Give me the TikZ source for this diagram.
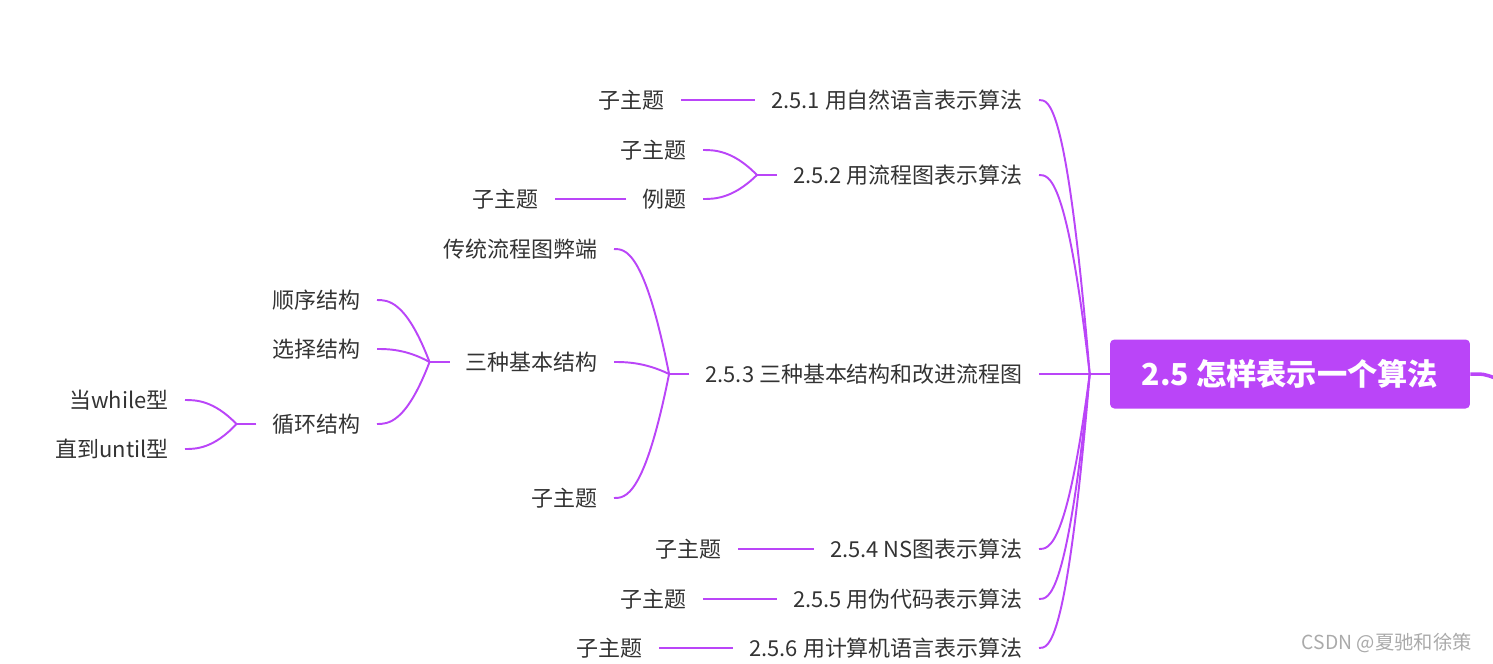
\documentclass[tikz,border=0pt]{standalone}
\usepackage{fontspec}
\setmainfont{Noto Sans CJK SC}
\usetikzlibrary{calc,positioning}
\definecolor{mindpurple}{RGB}{186,69,248}
\definecolor{topicgray}{RGB}{51,51,51}
\definecolor{markgray}{RGB}{170,170,170}

\begin{document}
\begin{tikzpicture}[x=0.02cm, y=-0.02cm,
  topic/.style={font=\fontsize{12.5}{15}\selectfont, text=topicgray,
    inner xsep=0.32cm, inner ysep=2pt, anchor=east},
  central/.style={fill=mindpurple, rounded corners=2.5pt, text=white,
    font=\fontsize{17.2}{21}\selectfont\bfseries,
    minimum width=7.2cm, minimum height=1.38cm},
  branch/.style={draw=mindpurple, line width=1.1pt,
    to path={.. controls ($(\tikztostart|-\tikztotarget)!0.45!(\tikztotarget)$)
      and ($(\tikztostart|-\tikztotarget)!0.8!(\tikztotarget)$) .. (\tikztotarget)}},
  watermark/.style={font=\fontsize{11}{13}\selectfont, text=markgray, anchor=east}]
  % canvas in pixels of the screenshot
  \useasboundingbox (0,0) rectangle (1493,663);

  % central topic
  \node[central] (root) at (1290,374) {2.5 怎样表示一个算法};
  \coordinate (offright) at (1495,378);
  \draw[mindpurple, line width=2pt] (root.east) .. controls (1484,374) .. (offright);

  % main topics
  \node[topic] (t1) at (1039,100) {2.5.1 用自然语言表示算法};
  \node[topic] (t2) at (1039,175) {2.5.2 用流程图表示算法};
  \node[topic] (t3) at (1039,374) {2.5.3 三种基本结构和改进流程图};
  \node[topic] (t4) at (1039,549) {2.5.4 NS图表示算法};
  \node[topic] (t5) at (1039,599) {2.5.5 用伪代码表示算法};
  \node[topic] (t6) at (1039,648) {2.5.6 用计算机语言表示算法};

  % subtopics
  \node[topic] (t1a) at (681,100) {子主题};
  \node[topic] (t2a) at (703,150) {子主题};
  \node[topic] (t2b) at (703,199) {例题};
  \node[topic] (t2b1) at (555,199) {子主题};
  \node[topic] (t3a) at (614,249) {传统流程图弊端};
  \node[topic] (t3b) at (614,362) {三种基本结构};
  \node[topic] (t3c) at (614,498) {子主题};
  \node[topic] (t3b1) at (377,300) {顺序结构};
  \node[topic] (t3b2) at (377,349) {选择结构};
  \node[topic] (t3b3) at (377,424) {循环结构};
  \node[topic] (t3b3a) at (185,400) {当while型};
  \node[topic] (t3b3b) at (185,449) {直到until型};
  \node[topic] (t4a) at (738,549) {子主题};
  \node[topic] (t5a) at (703,599) {子主题};
  \node[topic] (t6a) at (659,648) {子主题};

  % watermark
  \node[watermark] (wm) at (1478,643) {CSDN @夏驰和徐策};

  % junction points, 20px left of each parent
  \foreach \p/\j in {root/j0, t2/j2, t3/j3, t3b/j3b, t3b3/j3bc}{
    \coordinate (\j) at ($(\p.west)+(-20,0)$);
    \draw[branch] (\p.west) -- (\j);
  }

  % curved branches
  \foreach \j/\c in {j0/t1, j0/t2, j0/t3, j0/t4, j0/t5, j0/t6,
    j2/t2a, j2/t2b, j3/t3a, j3/t3b, j3/t3c,
    j3b/t3b1, j3b/t3b2, j3b/t3b3, j3bc/t3b3a, j3bc/t3b3b}
    \draw[branch] (\j) to (\c.east);

  % single child links
  \foreach \a/\b in {t1/t1a, t2b/t2b1, t4/t4a, t5/t5a, t6/t6a}
    \draw[branch] (\a.west) -- (\b.east);
\end{tikzpicture}
\end{document}
